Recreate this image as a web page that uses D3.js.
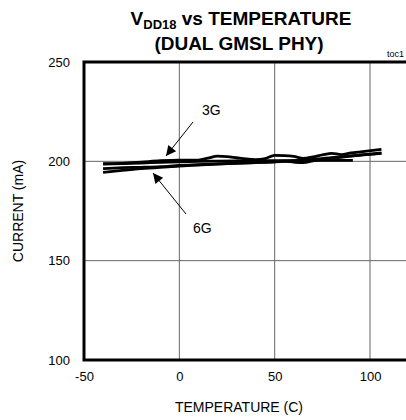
<!DOCTYPE html>
<html><head><meta charset="utf-8">
<script src="https://cdn.jsdelivr.net/npm/d3@7"></script>
<style>body{margin:0;background:#fff}svg{display:block}text{font-family:"Liberation Sans Narrow","Arial Narrow","Liberation Sans",Arial,sans-serif}</style>
</head><body><svg id="c" width="406" height="420"></svg>
<script>
const xTicks = [-50, 0, 50, 100];
const yTicks = [100, 150, 200, 250];
const temp3Ga = [-40, -30, -20, -10, 0, 10, 20, 30, 40, 50, 60, 70, 80, 91];
const cur3Ga  = [198.6, 198.8, 199.1, 199.5, 199.8, 200.0, 200.1, 200.2, 200.3, 200.4, 200.4, 200.5, 200.5, 200.5];
const temp3Gb = [-40, -30, -20, -10, 0, 10, 15, 20, 25, 30, 35, 40, 45, 50, 55, 60, 65, 70, 75, 80, 85, 90, 95, 106];
const cur3Gb  = [198.8, 199.0, 199.6, 200.3, 200.6, 200.6, 201.6, 202.6, 202.4, 201.8, 201.2, 200.9, 201.4, 203.0, 202.9, 202.5, 201.5, 202.2, 203.2, 204.0, 203.4, 204.2, 204.8, 206.0];
const temp6Ga = [-40, -30, -20, -10, 0, 10, 20, 30, 40, 50, 55, 60, 65, 70, 80, 90, 106];
const cur6Ga  = [196.3, 196.8, 197.0, 197.3, 197.9, 198.3, 198.7, 199.1, 199.4, 199.8, 200.1, 199.6, 199.3, 200.2, 201.6, 202.6, 204.2];
const temp6Gb = [-40, -30, -20, -10, 0, 10, 20, 30, 40, 50, 60, 70, 80, 90, 106];
const cur6Gb  = [194.4, 195.4, 196.3, 197.0, 197.6, 198.1, 198.6, 199.0, 199.4, 199.8, 200.3, 201.0, 201.9, 202.8, 204.0];
const series = [[temp3Ga, cur3Ga], [temp3Gb, cur3Gb], [temp6Ga, cur6Ga], [temp6Gb, cur6Gb]];

const svg = d3.select("#c");
const x = d3.scaleLinear().domain([-50, 125]).range([84, 417.7]);
const y = d3.scaleLinear().domain([100, 250]).range([360, 62]);

// grid
svg.append("g").selectAll("line").data(xTicks.slice(1)).join("line")
  .attr("x1", d => x(d)).attr("x2", d => x(d)).attr("y1", y(250)).attr("y2", y(100))
  .attr("stroke", "#666").attr("stroke-width", 1);
svg.append("g").selectAll("line").data(yTicks.slice(1, 3)).join("line")
  .attr("x1", x(-50)).attr("x2", 406).attr("y1", d => y(d)).attr("y2", d => y(d))
  .attr("stroke", "#666").attr("stroke-width", 1);

// axes (labels only)
const fmt = d => String(d);
const xa = svg.append("g").attr("transform", `translate(0,${y(100)})`)
  .call(d3.axisBottom(x).tickValues(xTicks).tickFormat(fmt).tickSize(0).tickPadding(12));
const ya = svg.append("g").attr("transform", `translate(${x(-50)},0)`)
  .call(d3.axisLeft(y).tickValues(yTicks).tickFormat(fmt).tickSize(0).tickPadding(14));
[xa, ya].forEach(a => { a.select(".domain").remove(); a.selectAll("text").attr("font-size", 13).attr("fill", "#000")
  .style("font-family", '"Liberation Sans","Arial",sans-serif'); });

// frame
svg.append("rect").attr("x", x(-50)).attr("y", y(250)).attr("width", x(125) - x(-50)).attr("height", y(100) - y(250))
  .attr("fill", "none").attr("stroke", "#000").attr("stroke-width", 3);

// lines
const line = d3.line().curve(d3.curveMonotoneX);
svg.append("g").selectAll("path").data(series).join("path")
  .attr("d", s => line(s[0].map((t, i) => [x(t), y(s[1][i])])))
  .attr("fill", "none").attr("stroke", "#000").attr("stroke-width", 2.8);

// arrows
svg.append("defs").append("marker").attr("id", "ah").attr("viewBox", "0 0 10 10")
  .attr("refX", 10).attr("refY", 5).attr("markerWidth", 14).attr("markerHeight", 10)
  .attr("markerUnits", "userSpaceOnUse").attr("orient", "auto")
  .append("path").attr("d", "M0,0L10,5L0,10z").attr("fill", "#000");
const arrows = [[193, 122, 166, 156], [186, 214, 153, 173]];
svg.append("g").selectAll("line").data(arrows).join("line")
  .attr("x1", d => d[0]).attr("y1", d => d[1]).attr("x2", d => d[2]).attr("y2", d => d[3])
  .attr("stroke", "#000").attr("stroke-width", 1).attr("marker-end", "url(#ah)");
svg.append("text").attr("x", 202).attr("y", 115).attr("font-size", 14).text("3G")
  .style("font-family", '"Liberation Sans",Arial,sans-serif');
svg.append("text").attr("x", 193).attr("y", 233).attr("font-size", 14).text("6G")
  .style("font-family", '"Liberation Sans",Arial,sans-serif');

// titles
const t1 = svg.append("text").attr("x", 241).attr("y", 25).attr("text-anchor", "middle")
  .attr("font-size", 19).attr("font-weight", "bold");
t1.append("tspan").text("V");
t1.append("tspan").attr("font-size", 13).attr("dy", 4).text("DD18");
t1.append("tspan").attr("dy", -4).text(" vs TEMPERATURE");
svg.append("text").attr("x", 239).attr("y", 50).attr("text-anchor", "middle")
  .attr("font-size", 19).attr("font-weight", "bold").text("(DUAL GMSL PHY)");
svg.append("text").attr("x", 404).attr("y", 57).attr("text-anchor", "end").attr("font-size", 9).text("toc1");
svg.append("text").attr("x", 239).attr("y", 412).attr("text-anchor", "middle").attr("font-size", 14).text("TEMPERATURE (C)");
svg.append("text").attr("transform", "translate(23,211) rotate(-90)").attr("text-anchor", "middle")
  .attr("font-size", 14).text("CURRENT (mA)");
</script></body></html>
